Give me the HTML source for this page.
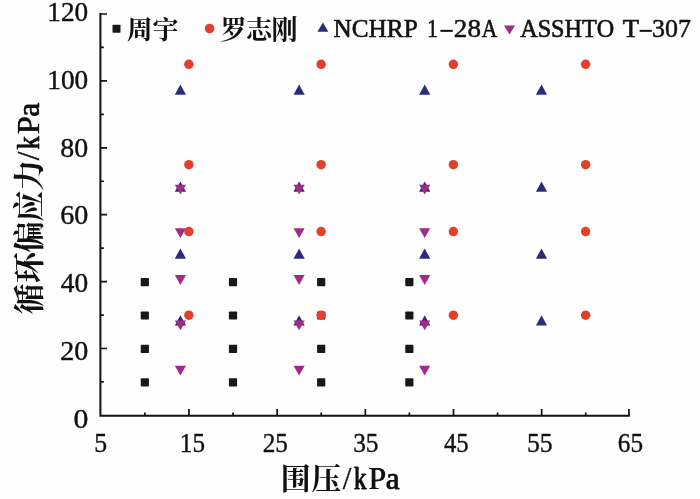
<!DOCTYPE html>
<html lang="zh"><head><meta charset="utf-8"><title>循环偏应力 - 围压</title>
<style>html,body{margin:0;padding:0;background:#fff}svg{display:block;will-change:transform}text{font-family:"Liberation Serif",serif;fill:#111;font-kerning:none}</style></head><body>
<svg width="700" height="499" viewBox="0 0 700 499">
<rect width="700" height="499" fill="#fefefe"/>
<g stroke="#111" fill="none">
<path d="M100.40 13.10V415.80H629.82" stroke-width="2.0"/>
<path d="M100.40 381.95h3.4 M100.40 348.50h6.6 M100.40 315.05h3.4 M100.40 281.60h6.6 M100.40 248.15h3.4 M100.40 214.70h6.6 M100.40 181.25h3.4 M100.40 147.80h6.6 M100.40 114.35h3.4 M100.40 80.90h6.6 M100.40 47.45h3.4 M100.40 14.00h6.6 M144.89 415.80v-3.4 M188.97 415.80v-6.7 M233.06 415.80v-3.4 M277.14 415.80v-6.7 M321.23 415.80v-3.4 M365.31 415.80v-6.7 M409.39 415.80v-3.4 M453.48 415.80v-6.7 M497.56 415.80v-3.4 M541.65 415.80v-6.7 M585.74 415.80v-3.4 M628.97 415.80v-6.7" stroke-width="1.7"/>
</g>
<rect x="140.74" y="378.30" width="8.2" height="8.2" rx="0.8" fill="#181818"/>
<rect x="140.74" y="344.85" width="8.2" height="8.2" rx="0.8" fill="#181818"/>
<rect x="140.74" y="311.40" width="8.2" height="8.2" rx="0.8" fill="#181818"/>
<rect x="140.74" y="277.95" width="8.2" height="8.2" rx="0.8" fill="#181818"/>
<rect x="228.91" y="378.30" width="8.2" height="8.2" rx="0.8" fill="#181818"/>
<rect x="228.91" y="344.85" width="8.2" height="8.2" rx="0.8" fill="#181818"/>
<rect x="228.91" y="311.40" width="8.2" height="8.2" rx="0.8" fill="#181818"/>
<rect x="228.91" y="277.95" width="8.2" height="8.2" rx="0.8" fill="#181818"/>
<rect x="317.08" y="378.30" width="8.2" height="8.2" rx="0.8" fill="#181818"/>
<rect x="317.08" y="344.85" width="8.2" height="8.2" rx="0.8" fill="#181818"/>
<rect x="317.08" y="311.40" width="8.2" height="8.2" rx="0.8" fill="#181818"/>
<rect x="317.08" y="277.95" width="8.2" height="8.2" rx="0.8" fill="#181818"/>
<rect x="405.25" y="378.30" width="8.2" height="8.2" rx="0.8" fill="#181818"/>
<rect x="405.25" y="344.85" width="8.2" height="8.2" rx="0.8" fill="#181818"/>
<rect x="405.25" y="311.40" width="8.2" height="8.2" rx="0.8" fill="#181818"/>
<rect x="405.25" y="277.95" width="8.2" height="8.2" rx="0.8" fill="#181818"/>
<path d="M174.80 325.54h11.2L180.40 315.34z" fill="#2b2b7b"/>
<path d="M174.80 258.64h11.2L180.40 248.44z" fill="#2b2b7b"/>
<path d="M174.80 191.74h11.2L180.40 181.54z" fill="#2b2b7b"/>
<path d="M174.80 94.73h11.2L180.40 84.53z" fill="#2b2b7b"/>
<path d="M293.50 325.54h11.2L299.10 315.34z" fill="#2b2b7b"/>
<path d="M293.50 258.64h11.2L299.10 248.44z" fill="#2b2b7b"/>
<path d="M293.50 191.74h11.2L299.10 181.54z" fill="#2b2b7b"/>
<path d="M293.50 94.73h11.2L299.10 84.53z" fill="#2b2b7b"/>
<path d="M419.10 325.54h11.2L424.70 315.34z" fill="#2b2b7b"/>
<path d="M419.10 258.64h11.2L424.70 248.44z" fill="#2b2b7b"/>
<path d="M419.10 191.74h11.2L424.70 181.54z" fill="#2b2b7b"/>
<path d="M419.10 94.73h11.2L424.70 84.53z" fill="#2b2b7b"/>
<path d="M535.90 325.54h11.2L541.50 315.34z" fill="#2b2b7b"/>
<path d="M535.90 258.64h11.2L541.50 248.44z" fill="#2b2b7b"/>
<path d="M535.90 191.74h11.2L541.50 181.54z" fill="#2b2b7b"/>
<path d="M535.90 94.73h11.2L541.50 84.53z" fill="#2b2b7b"/>
<path d="M174.80 365.80h11.2L180.40 375.60z" fill="#a52a87"/>
<path d="M174.80 320.47h11.2L180.40 330.27z" fill="#a52a87"/>
<path d="M174.80 275.09h11.2L180.40 284.89z" fill="#a52a87"/>
<path d="M174.80 228.26h11.2L180.40 238.06z" fill="#a52a87"/>
<path d="M174.80 184.77h11.2L180.40 194.57z" fill="#a52a87"/>
<path d="M293.50 365.80h11.2L299.10 375.60z" fill="#a52a87"/>
<path d="M293.50 320.47h11.2L299.10 330.27z" fill="#a52a87"/>
<path d="M293.50 275.09h11.2L299.10 284.89z" fill="#a52a87"/>
<path d="M293.50 228.26h11.2L299.10 238.06z" fill="#a52a87"/>
<path d="M293.50 184.77h11.2L299.10 194.57z" fill="#a52a87"/>
<path d="M419.10 365.80h11.2L424.70 375.60z" fill="#a52a87"/>
<path d="M419.10 320.47h11.2L424.70 330.27z" fill="#a52a87"/>
<path d="M419.10 275.09h11.2L424.70 284.89z" fill="#a52a87"/>
<path d="M419.10 228.26h11.2L424.70 238.06z" fill="#a52a87"/>
<path d="M419.10 184.77h11.2L424.70 194.57z" fill="#a52a87"/>
<circle cx="188.87" cy="315.20" r="4.72" fill="#e33f2a"/>
<circle cx="188.87" cy="231.57" r="4.72" fill="#e33f2a"/>
<circle cx="188.87" cy="164.67" r="4.72" fill="#e33f2a"/>
<circle cx="188.87" cy="64.32" r="4.72" fill="#e33f2a"/>
<circle cx="321.13" cy="315.20" r="4.72" fill="#e33f2a"/>
<circle cx="321.13" cy="231.57" r="4.72" fill="#e33f2a"/>
<circle cx="321.13" cy="164.67" r="4.72" fill="#e33f2a"/>
<circle cx="321.13" cy="64.32" r="4.72" fill="#e33f2a"/>
<circle cx="453.38" cy="315.20" r="4.72" fill="#e33f2a"/>
<circle cx="453.38" cy="231.57" r="4.72" fill="#e33f2a"/>
<circle cx="453.38" cy="164.67" r="4.72" fill="#e33f2a"/>
<circle cx="453.38" cy="64.32" r="4.72" fill="#e33f2a"/>
<circle cx="585.63" cy="315.20" r="4.72" fill="#e33f2a"/>
<circle cx="585.63" cy="231.57" r="4.72" fill="#e33f2a"/>
<circle cx="585.63" cy="164.67" r="4.72" fill="#e33f2a"/>
<circle cx="585.63" cy="64.32" r="4.72" fill="#e33f2a"/>
<text transform="translate(47.30 21.20) scale(1.0377 1)" font-size="26.3" stroke="#111" stroke-width="0.4" stroke-linejoin="round">120</text>
<text transform="translate(47.30 88.93) scale(1.0377 1)" font-size="26.3" stroke="#111" stroke-width="0.4" stroke-linejoin="round">100</text>
<text transform="translate(60.34 156.66) scale(1.0619 1)" font-size="26.3" stroke="#111" stroke-width="0.4" stroke-linejoin="round">80</text>
<text transform="translate(60.19 224.39) scale(1.0675 1)" font-size="26.3" stroke="#111" stroke-width="0.4" stroke-linejoin="round">60</text>
<text transform="translate(60.87 292.12) scale(1.0410 1)" font-size="26.3" stroke="#111" stroke-width="0.4" stroke-linejoin="round">40</text>
<text transform="translate(60.16 359.85) scale(1.0687 1)" font-size="26.3" stroke="#111" stroke-width="0.4" stroke-linejoin="round">20</text>
<text transform="translate(73.47 427.58) scale(1.1304 1)" font-size="26.3" stroke="#111" stroke-width="0.4" stroke-linejoin="round">0</text>
<text transform="translate(94.30 451.60) scale(0.9742 1)" font-size="26.5" stroke="#111" stroke-width="0.4" stroke-linejoin="round">5</text>
<text transform="translate(179.79 451.60) scale(0.9509 1)" font-size="26.5" stroke="#111" stroke-width="0.4" stroke-linejoin="round">15</text>
<text transform="translate(262.69 451.60) scale(0.9547 1)" font-size="26.5" stroke="#111" stroke-width="0.4" stroke-linejoin="round">25</text>
<text transform="translate(353.18 451.60) scale(0.9588 1)" font-size="26.5" stroke="#111" stroke-width="0.4" stroke-linejoin="round">35</text>
<text transform="translate(443.92 451.60) scale(0.9300 1)" font-size="26.5" stroke="#111" stroke-width="0.4" stroke-linejoin="round">45</text>
<text transform="translate(527.01 451.60) scale(0.9697 1)" font-size="26.5" stroke="#111" stroke-width="0.4" stroke-linejoin="round">55</text>
<text transform="translate(617.81 451.60) scale(0.9537 1)" font-size="26.5" stroke="#111" stroke-width="0.4" stroke-linejoin="round">65</text>
<g aria-label="周宇">
<rect x="112.50" y="24.80" width="8.0" height="8.0" rx="0.8" fill="#181818"/>
<text x="126.70 152.60" y="38.70" font-size="26" font-weight="bold" style="font-family:'Liberation Serif','Noto Serif CJK SC',serif">周宇</text>
</g>
<g aria-label="罗志刚">
<circle cx="209.60" cy="28.50" r="4.8" fill="#e33f2a"/>
<text x="220.60 245.90 271.40" y="38.70" font-size="26" font-weight="bold" style="font-family:'Liberation Serif','Noto Serif CJK SC',serif">罗志刚</text>
</g>
<path d="M317.40 31.67h11.0L322.90 22.47z" fill="#2b2b7b"/>
<text transform="translate(333.60 36.60) scale(0.9625 1)" font-size="26.2" stroke="#111" stroke-width="0.65" stroke-linejoin="round">NCHRP</text>
<text transform="translate(426.93 36.60) scale(0.8348 1)" font-size="26.2" stroke="#111" stroke-width="0.5" stroke-linejoin="round">1</text>
<rect x="440.4" y="29.85" width="12.40" height="2.0" fill="#111"/>
<text transform="translate(453.86 36.60) scale(1.0353 1)" font-size="26.2" stroke="#111" stroke-width="0.5" stroke-linejoin="round">28</text>
<text transform="translate(481.82 36.60) scale(0.8201 1)" font-size="26.2" stroke="#111" stroke-width="0.65" stroke-linejoin="round">A</text>
<path d="M504.00 25.60h11.0L509.50 34.60z" fill="#a52a87"/>
<text transform="translate(520.19 36.60) scale(0.9232 1)" font-size="26.2" stroke="#111" stroke-width="0.65" stroke-linejoin="round">ASSHTO</text>
<text transform="translate(622.74 36.60) scale(1.0168 1)" font-size="26.2" stroke="#111" stroke-width="0.65" stroke-linejoin="round">T</text>
<rect x="639.6" y="29.85" width="12.20" height="2.0" fill="#111"/>
<text transform="translate(652.11 36.60) scale(0.9922 1)" font-size="26.2" stroke="#111" stroke-width="0.5" stroke-linejoin="round">307</text>
<g aria-label="围压/kPa">
<text x="280.64 311.37" y="489.40" font-size="30" font-weight="bold" style="font-family:'Liberation Serif','Noto Serif CJK SC',serif">围压</text>
<text x="342.8" y="488.80" font-size="31.2" stroke="#111" stroke-width="0.35" stroke-linejoin="round">/</text>
<text id="t1" transform="translate(353.59 488.80) scale(0.8097 1)" font-size="31.2" stroke="#111" stroke-width="0.35" stroke-linejoin="round">k</text><use href="#t1" x="0.6"/>
<text id="t2" transform="translate(368.16 488.80) scale(1.0162 1)" font-size="31.2" stroke="#111" stroke-width="0.15" stroke-linejoin="round">P</text><use href="#t2" x="0.6"/>
<text id="t3" transform="translate(385.56 488.80) scale(0.9899 1)" font-size="31.2" stroke="#111" stroke-width="0.3" stroke-linejoin="round">a</text><use href="#t3" x="0.6"/>
</g>
<g transform="translate(39.4 0) rotate(-90)" aria-label="循环偏应力/kPa">
<text x="-314.55 -282.92 -252.38 -221.69 -190.64" y="0.10" font-size="31" font-weight="bold" style="font-family:'Liberation Serif','Noto Serif CJK SC',serif">循环偏应力</text>
<text x="-160.3" y="-0.50" font-size="31.2" stroke="#111" stroke-width="0.35" stroke-linejoin="round">/</text>
<text id="t4" transform="translate(-149.73 -0.50) scale(0.8563 1)" font-size="31.2" stroke="#111" stroke-width="0.35" stroke-linejoin="round">k</text><use href="#t4" x="0.6"/>
<text id="t5" transform="translate(-134.56 -0.50) scale(1.0359 1)" font-size="31.2" stroke="#111" stroke-width="0.15" stroke-linejoin="round">P</text><use href="#t5" x="0.6"/>
<text id="t6" transform="translate(-116.94 -0.50) scale(0.9980 1)" font-size="31.2" stroke="#111" stroke-width="0.3" stroke-linejoin="round">a</text><use href="#t6" x="0.6"/>
</g>
</svg></body></html>
